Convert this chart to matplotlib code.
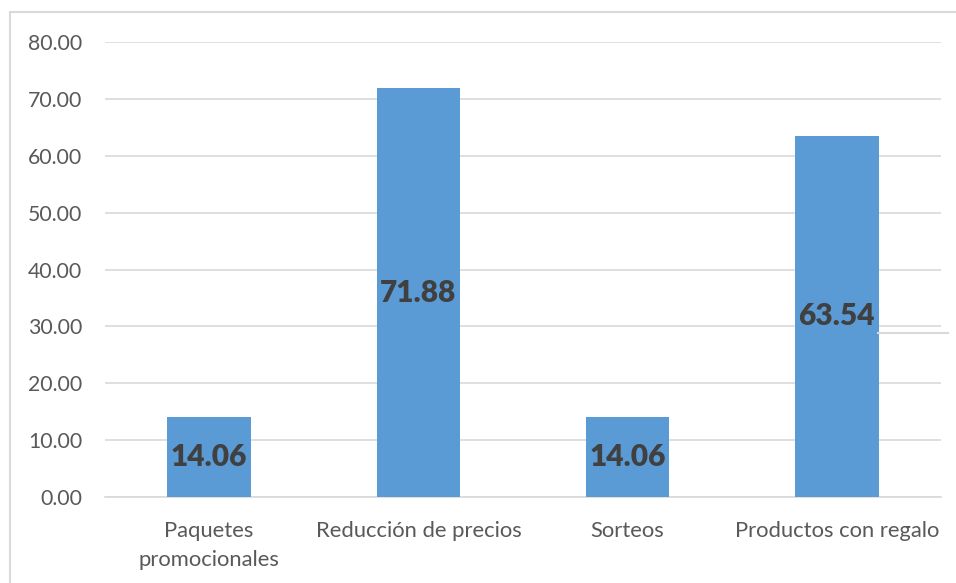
import matplotlib.pyplot as plt
from matplotlib.patches import Rectangle
from matplotlib.lines import Line2D

categories = ["Paquetes\npromocionales", "Reducción de precios", "Sorteos", "Productos con regalo"]
values = [14.06, 71.88, 14.06, 63.54]
y_ticks = [0, 10, 20, 30, 40, 50, 60, 70, 80]

plt.rcParams["font.family"] = ["Lato", "DejaVu Sans"]

fig = plt.figure(figsize=(9.56, 5.83), dpi=100)
ax = fig.add_axes([104.5 / 956, 1 - 497 / 583, 837 / 956, 455 / 583])

x = range(len(categories))
ax.bar(x, values, width=0.40, color="#5B9BD5", zorder=3)

for i, v in enumerate(values):
    ax.text(i, v / 2, f"{v:.2f}", ha="center", va="center",
            fontsize=21.5, fontweight="heavy", color="#404040", zorder=4)

ax.set_xlim(-0.5, len(categories) - 0.5)
ax.set_ylim(0, 80)
ax.set_yticks(y_ticks)
ax.set_yticklabels([f"{t:.2f}" for t in y_ticks], fontsize=15.3)
ax.set_xticks(list(x))
ax.set_xticklabels(categories, fontsize=15.8, linespacing=1.6)
ax.tick_params(axis="both", length=0, colors="#595959")
ax.tick_params(axis="y", pad=16)
ax.tick_params(axis="x", pad=17)
ax.grid(axis="y", color="#D9D9D9", linewidth=1.2, zorder=0)
for s in ["top", "right", "left"]:
    ax.spines[s].set_visible(False)
ax.spines["bottom"].set_color("#D9D9D9")
ax.spines["bottom"].set_linewidth(1.2)

# chart area border
fig.patches.append(Rectangle((10 / 956, -0.1), 1.1, 1 - 12 / 583 + 0.1,
                             transform=fig.transFigure, fill=False,
                             edgecolor="#D9D9D9", linewidth=1.5))
fig.lines.append(Line2D([878 / 956, 948 / 956], [1 - 333 / 583, 1 - 333 / 583],
                        transform=fig.transFigure, color="#D9D9D9", linewidth=1.5))

fig.savefig("out.png", dpi=100)
